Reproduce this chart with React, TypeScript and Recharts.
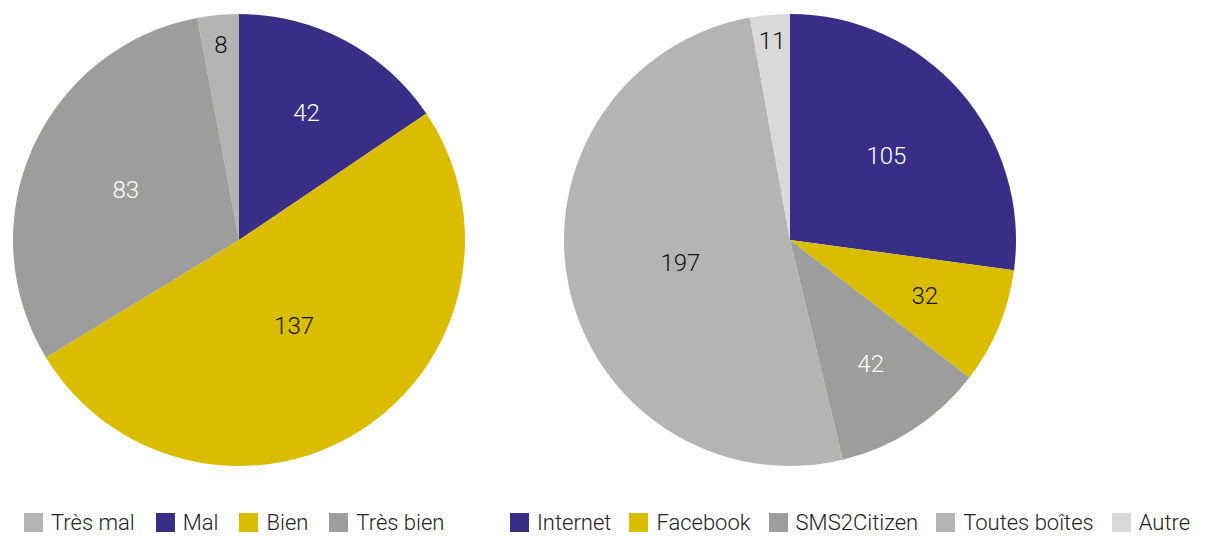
import React from 'react';
import { PieChart, Pie, Cell, Legend } from 'recharts';

// Left pie: satisfaction
const leftNames = ['Très mal', 'Mal', 'Bien', 'Très bien'];
const leftValues = [8, 42, 137, 83];
const leftColors = ['#b4b4b4', '#382e86', '#dbbd00', '#9d9d9c'];
const leftLabelColors = ['#111', '#fff', '#111', '#fff'];
const leftLabelRadius = [196, 144, 102, 124];

// Right pie: channels
const rightNames = ['Internet', 'Facebook', 'SMS2Citizen', 'Toutes boîtes', 'Autre'];
const rightValues = [105, 32, 42, 197, 11];
const rightColors = ['#382e86', '#dbbd00', '#9d9d9c', '#b4b4b4', '#d9d9d9'];
const rightLabelColors = ['#fff', '#111', '#fff', '#111', '#111'];
const rightLabelRadius = [128, 146, 148, 112, 200];

const FONT = 'Roboto, "Helvetica Neue", Arial, sans-serif';
const RADIAN = Math.PI / 180;

const makeLabel = (colors: string[], radii: number[]) => (props: any) => {
  const { cx, cy, midAngle, index, value } = props;
  const r = radii[index];
  const x = cx + r * Math.cos(-midAngle * RADIAN);
  const y = cy + r * Math.sin(-midAngle * RADIAN);
  return (
    <text
      x={x}
      y={y}
      fill={colors[index]}
      textAnchor='middle'
      dominantBaseline='central'
      fontSize={24}
      fontWeight={300}
      fontFamily={FONT}
    >
      {value}
    </text>
  );
};

const makeLegend = (names: string[], colors: string[], left: number, gap: number) => () => (
  <div
    style={{
      display: 'flex',
      alignItems: 'center',
      paddingLeft: left,
      fontFamily: FONT,
      fontWeight: 300,
      fontSize: 22,
      color: '#222',
      whiteSpace: 'nowrap',
    }}
  >
    {names.map((n, i) => (
      <div key={n} style={{ display: 'flex', alignItems: 'center', marginRight: gap }}>
        <span
          style={{
            display: 'inline-block',
            width: 19,
            height: 19,
            background: colors[i],
            marginRight: 8,
          }}
        />
        <span>{n}</span>
      </div>
    ))}
  </div>
);

const sum = (a: number[]) => a.reduce((s, v) => s + v, 0);

const App: React.FC = () => {
  const leftData = leftNames.map((name, i) => ({ name, value: leftValues[i] }));
  const rightData = rightNames.map((name, i) => ({ name, value: rightValues[i] }));
  // first slice ends at 12 o'clock on the left pie
  const leftStart = 90 + (leftValues[0] / sum(leftValues)) * 360;

  return (
    <div style={{ position: 'absolute', left: 0, top: 0, width: 1205, height: 536, background: '#fff' }}>
      <div style={{ position: 'absolute', left: 0, top: 0 }}>
        <PieChart width={520} height={536} margin={{ top: 0, right: 0, bottom: 0, left: 0 }}>
          <Pie
            data={leftData}
            dataKey='value'
            nameKey='name'
            cx={239}
            cy={240}
            outerRadius={226}
            startAngle={leftStart}
            endAngle={leftStart - 360}
            stroke='none'
            labelLine={false}
            label={makeLabel(leftLabelColors, leftLabelRadius)}
            isAnimationActive={false}
          >
            {leftData.map((d, i) => (
              <Cell key={d.name} fill={leftColors[i]} />
            ))}
          </Pie>
          <Legend
            verticalAlign='bottom'
            align='left'
            wrapperStyle={{ left: 0, bottom: 1, width: 520 }}
            content={makeLegend(leftNames, leftColors, 24, 21)}
          />
        </PieChart>
      </div>
      <div style={{ position: 'absolute', left: 500, top: 0 }}>
        <PieChart width={705} height={536} margin={{ top: 0, right: 0, bottom: 0, left: 0 }}>
          <Pie
            data={rightData}
            dataKey='value'
            nameKey='name'
            cx={290}
            cy={240}
            outerRadius={226}
            startAngle={90}
            endAngle={-270}
            stroke='none'
            labelLine={false}
            label={makeLabel(rightLabelColors, rightLabelRadius)}
            isAnimationActive={false}
          >
            {rightData.map((d, i) => (
              <Cell key={d.name} fill={rightColors[i]} />
            ))}
          </Pie>
          <Legend
            verticalAlign='bottom'
            align='left'
            wrapperStyle={{ left: 0, bottom: 1, width: 705 }}
            content={makeLegend(rightNames, rightColors, 10, 18)}
          />
        </PieChart>
      </div>
    </div>
  );
};

export default App;
